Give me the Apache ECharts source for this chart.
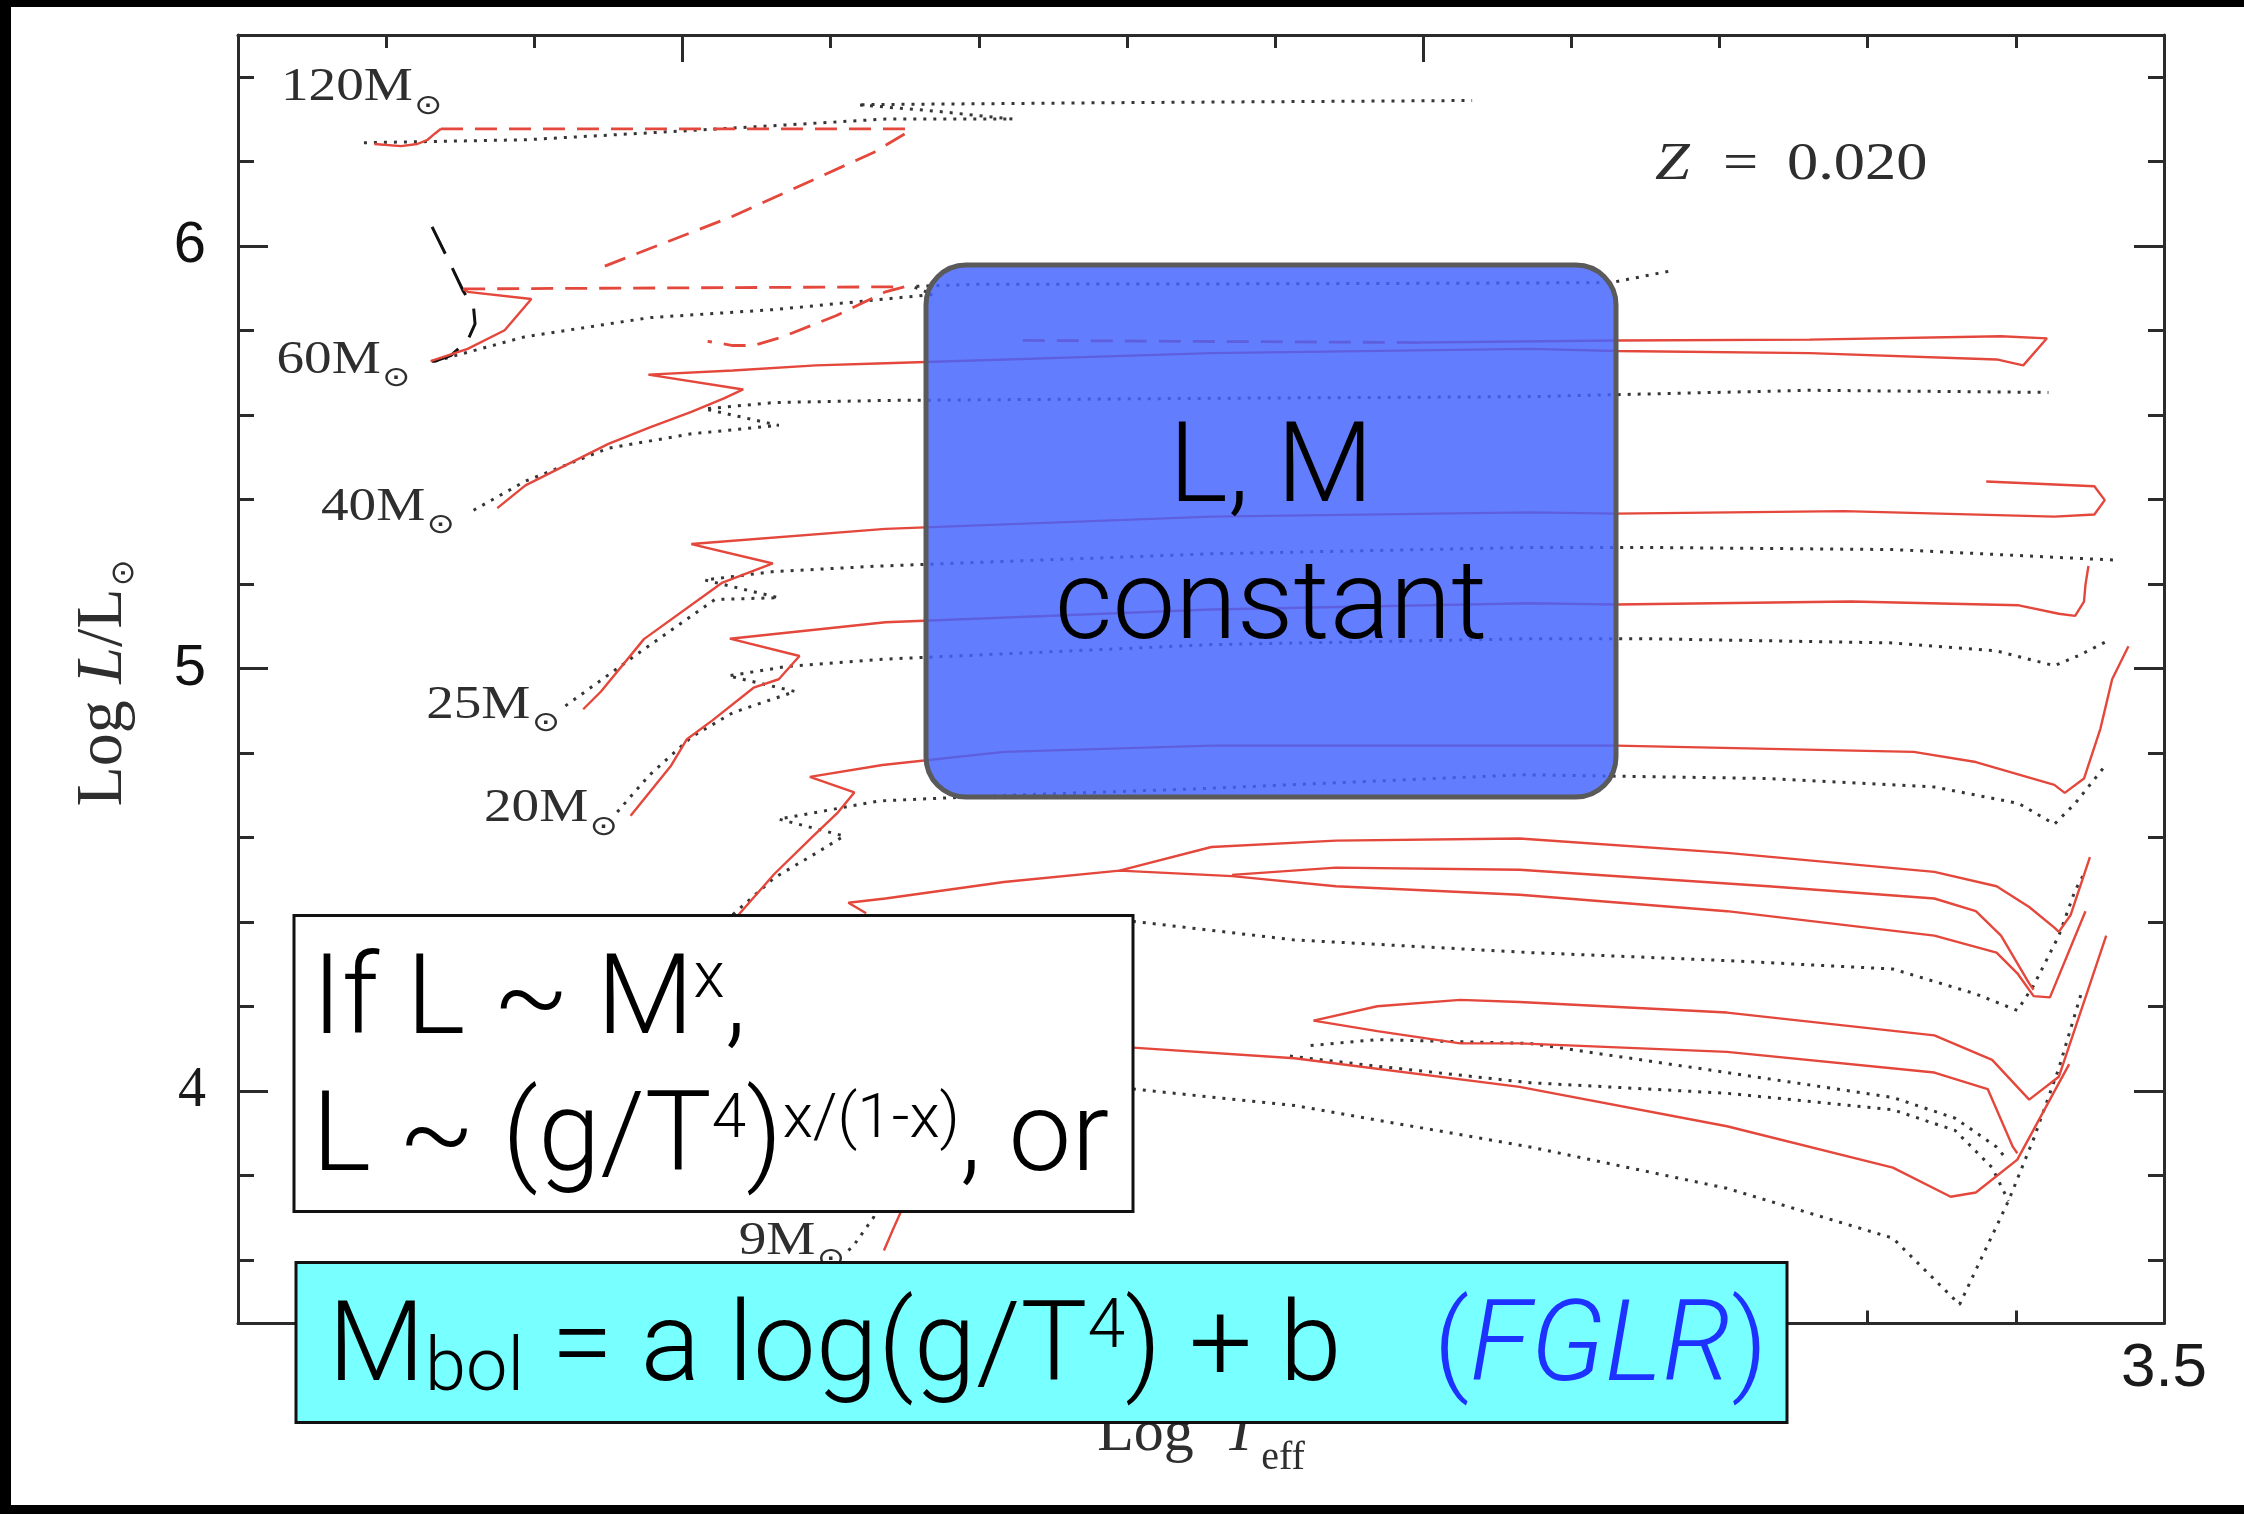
<!DOCTYPE html>
<html>
<head>
<meta charset="utf-8">
<script src="https://cdn.jsdelivr.net/npm/echarts@6/dist/echarts.min.js"></script>
<style>
  html, body { margin: 0; padding: 0; background: #fff; }
  #chart { width: 2244px; height: 1514px; }
</style>
</head>
<body>
<div id="chart"></div>
<script>
// HR diagram, Z = 0.020: rotating tracks (red) and non-rotating tracks (dotted)
// Points are [log Teff, log L/Lsun]

// axis ranges and ticks
const xRange = [3.5, 4.8];
const yRange = [3.45, 6.5];
const xMajor = [3.5, 4.0, 4.5];
const xMinor = [3.6, 3.7, 3.8, 3.9, 4.1, 4.2, 4.3, 4.4, 4.6, 4.7];
const yMajor = [4, 5, 6];
const yMinor = [3.6, 3.8, 4.2, 4.4, 4.6, 4.8, 5.2, 5.4, 5.6, 5.8, 6.2, 6.4];

// 120 Msun
const m120Rot = [[4.708,6.242],[4.690,6.237],[4.679,6.242],[4.672,6.252],[4.667,6.267],[4.663,6.278]];
const m120RotDash = [[4.663,6.278],[4.347,6.278],[4.347,6.272],[4.371,6.222],[4.466,6.071],[4.556,5.948]];
const m120NonRot = [[4.715,6.245],[4.606,6.252],[4.494,6.274],[4.363,6.301],[4.277,6.301],[4.330,6.320],[4.382,6.335],[4.200,6.340],[3.967,6.345]];

// 60 Msun
const m60Early = [[4.669,6.046],[4.656,5.953],[4.648,5.894],[4.641,5.855],[4.640,5.816],[4.645,5.777],[4.656,5.742],[4.667,5.728],[4.674,5.728]];
const m60Rot = [[4.670,5.728],[4.645,5.757],[4.620,5.801],[4.602,5.875],[4.645,5.892],[4.648,5.899]];
const m60RotDash = [[4.648,5.899],[4.350,5.904],[4.363,5.892],[4.396,5.836],[4.432,5.786],[4.452,5.765],[4.466,5.765],[4.483,5.775]];
const m60NonRot = [[4.667,5.728],[4.606,5.786],[4.522,5.831],[4.438,5.850],[4.363,5.875],[4.331,5.886],[4.345,5.905],[4.300,5.910],[4.100,5.911],[3.928,5.913],[3.873,5.914],[3.831,5.943]];

// 40 Msun
const m40Rot = [[4.625,5.380],[4.606,5.434],[4.578,5.483],[4.550,5.532],[4.522,5.571],[4.494,5.608],[4.472,5.640],[4.459,5.661],[4.523,5.696],[4.466,5.706],[4.410,5.718],[4.363,5.723],[4.143,5.747],[3.928,5.757],[3.870,5.752],[3.739,5.747],[3.613,5.732],[3.595,5.718],[3.579,5.782],[3.610,5.787],[3.739,5.779],[3.870,5.777],[4.003,5.772]];
const m40RotDash = [[4.003,5.772],[4.275,5.777]];
const m40NonRot = [[4.641,5.375],[4.606,5.444],[4.550,5.522],[4.494,5.556],[4.435,5.576],[4.485,5.615],[4.438,5.630],[4.363,5.635],[4.143,5.640],[3.928,5.644],[3.739,5.659],[3.578,5.654]];

// 25 Msun
const m25Rot = [[4.567,4.904],[4.555,4.946],[4.526,5.070],[4.473,5.204],[4.439,5.249],[4.494,5.295],[4.363,5.331],[4.143,5.360],[3.928,5.370],[3.870,5.367],[3.716,5.373],[3.574,5.360],[3.547,5.365],[3.540,5.399],[3.547,5.432],[3.620,5.443]];
const m25NonRot = [[4.579,4.912],[4.526,5.046],[4.478,5.164],[4.435,5.168],[4.485,5.210],[4.438,5.230],[4.367,5.243],[4.143,5.272],[3.928,5.287],[3.851,5.287],[3.683,5.282],[3.563,5.262],[3.532,5.257]];

// 20 Msun
const m20Rot = [[4.535,4.652],[4.508,4.769],[4.497,4.833],[4.480,4.877],[4.452,4.955],[4.435,4.975],[4.421,5.030],[4.468,5.071],[4.363,5.110],[4.143,5.140],[3.928,5.155],[3.870,5.152],[3.711,5.159],[3.598,5.150],[3.571,5.130],[3.560,5.125],[3.554,5.159],[3.553,5.199],[3.551,5.243]];
const m20NonRot = [[4.544,4.661],[4.522,4.749],[4.494,4.838],[4.466,4.896],[4.424,4.946],[4.469,4.983],[4.430,5.005],[4.367,5.022],[4.143,5.057],[3.928,5.071],[3.851,5.071],[3.683,5.061],[3.613,5.042],[3.574,5.007],[3.557,5.032],[3.538,5.066]];

// 15 Msun
const m15Rot = [[4.462,4.418],[4.438,4.514],[4.412,4.603],[4.395,4.660],[4.384,4.707],[4.414,4.744],[4.365,4.772],[4.283,4.803],[4.143,4.818],[3.928,4.818],[3.870,4.818],[3.669,4.803],[3.627,4.779],[3.574,4.725],[3.567,4.706],[3.554,4.740],[3.543,4.857],[3.535,4.975],[3.524,5.053]];
const m15NonRot = [[4.466,4.418],[4.438,4.505],[4.410,4.563],[4.391,4.604],[4.435,4.644],[4.367,4.687],[4.283,4.700],[4.157,4.715],[3.933,4.749],[3.767,4.740],[3.655,4.720],[3.598,4.681],[3.574,4.632],[3.560,4.681],[3.540,4.769]];

// 12 Msun
const m12Rot = [[4.376,4.421],[4.388,4.446],[4.363,4.456],[4.283,4.495],[4.205,4.522],[4.129,4.509],[4.059,4.485],[3.935,4.465],[3.795,4.426],[3.655,4.368],[3.613,4.328],[3.599,4.279],[3.588,4.225],[3.577,4.222],[3.553,4.426]];
const m12RotLoopOut = [[4.205,4.522],[4.143,4.578],[4.059,4.593],[3.935,4.598],[3.795,4.564],[3.655,4.519],[3.613,4.485],[3.591,4.436],[3.574,4.387],[3.571,4.377],[3.563,4.417],[3.550,4.554]];
const m12RotLoopBack = [[4.129,4.512],[4.059,4.529],[3.935,4.524],[3.767,4.485],[3.655,4.456],[3.627,4.426],[3.610,4.368],[3.591,4.255],[3.588,4.240]];
const m12NonRot = [[4.196,4.402],[4.087,4.358],[3.928,4.328],[3.795,4.309],[3.683,4.289],[3.627,4.230],[3.599,4.191],[3.588,4.250],[3.571,4.368],[3.560,4.475],[3.554,4.514]];

// 9 Msun
const m9RotMS = [[4.364,3.623],[4.358,3.672],[4.353,3.711],[4.352,3.725]];
const m9Rot = [[4.196,4.103],[4.087,4.078],[3.935,4.010],[3.795,3.917],[3.683,3.819],[3.644,3.750],[3.627,3.760],[3.599,3.838],[3.564,4.064]];
const m9RotLoopOut = [[4.074,4.167],[4.031,4.201],[3.975,4.216],[3.935,4.211],[3.795,4.186],[3.655,4.132],[3.616,4.074],[3.591,3.980],[3.571,4.034],[3.539,4.368]];
const m9RotLoopBack = [[4.074,4.167],[4.031,4.142],[3.975,4.113],[3.935,4.113],[3.795,4.093],[3.655,4.044],[3.619,4.005],[3.602,3.868],[3.599,3.853]];
const m9NonRotMS = [[4.388,3.623],[4.385,3.632],[4.371,3.701],[4.369,3.725]];
const m9NonRot = [[4.196,4.005],[4.087,3.966],[3.928,3.868],[3.795,3.770],[3.683,3.652],[3.638,3.495],[3.605,3.740],[3.588,3.887],[3.571,4.054],[3.556,4.230]];
const m9NonRotLoopOut = [[4.076,4.108],[4.031,4.122],[3.928,4.113],[3.795,4.044],[3.683,3.985],[3.641,3.936],[3.613,3.868],[3.606,3.838]];
const m9NonRotLoopBack = [[4.090,4.083],[4.031,4.059],[3.928,4.020],[3.795,3.995],[3.683,3.956],[3.641,3.907],[3.616,3.819],[3.605,3.740]];

// mass labels (left edge of the text, centre height of the digits)
const massNames = ['120M', '60M', '40M', '25M', '20M', '9M'];
const massPos = [[4.771,6.374],[4.774,5.729],[4.744,5.381],[4.673,4.912],[4.634,4.667],[4.462,3.643]];

const RED = '#e4473b';
const DOT = '#353535';
const FRAME = '#2b2b2b';
const LABEL = '#2e2e2e';
const SANS = 'Roboto, "Liberation Sans", Arial, sans-serif';
const SERIF = '"Liberation Serif", "Times New Roman", serif';
const SUN = '"DejaVu Sans", sans-serif';

function track(data, kind) {
  const styles = {
    solid:   { color: RED, width: 2.4, type: 'solid' },
    dotted:  { color: DOT, width: 3, type: [3, 7] },
    dashRed: { color: RED, width: 2.8, type: [22, 12] },
    dashBlk: { color: '#111', width: 3, type: [30, 16] }
  };
  return {
    type: 'line', data: data, showSymbol: false, symbol: 'none',
    lineStyle: Object.assign({ cap: 'butt' }, styles[kind]),
    z: kind === 'dotted' ? 2 : 3, silent: true, animation: false, clip: true
  };
}

// mass labels drawn through the grid's coordinate system, slightly widened like the figure lettering
const massLabelSeries = {
  type: 'custom', silent: true, animation: false, z: 4,
  data: massPos.map((p, i) => [p[0], p[1], i]),
  renderItem: function (params, api) {
    const pt = api.coord([api.value(0), api.value(1)]);
    return {
      type: 'text', x: pt[0], y: pt[1], scaleX: 1.2, scaleY: 1,
      style: {
        text: '{a|' + massNames[api.value(2)] + '}{s|\u2299}',
        textAlign: 'left', textVerticalAlign: 'middle',
        rich: {
          a: { fontFamily: SERIF, fontSize: 46, fill: LABEL, lineHeight: 46, verticalAlign: 'top' },
          s: { fontFamily: SUN, fontSize: 28, fill: LABEL, lineHeight: 46, verticalAlign: 'top', padding: [27, 0, 0, 1] }
        }
      }
    };
  }
};

const series = [
  track(m120NonRot, 'dotted'), track(m120Rot, 'solid'), track(m120RotDash, 'dashRed'),
  track(m60NonRot, 'dotted'), track(m60Early, 'dashBlk'), track(m60Rot, 'solid'), track(m60RotDash, 'dashRed'),
  track(m40NonRot, 'dotted'), track(m40Rot, 'solid'), track(m40RotDash, 'dashRed'),
  track(m25NonRot, 'dotted'), track(m25Rot, 'solid'),
  track(m20NonRot, 'dotted'), track(m20Rot, 'solid'),
  track(m15NonRot, 'dotted'), track(m15Rot, 'solid'),
  track(m12NonRot, 'dotted'), track(m12Rot, 'solid'), track(m12RotLoopOut, 'solid'), track(m12RotLoopBack, 'solid'),
  track(m9NonRotMS, 'dotted'), track(m9NonRot, 'dotted'), track(m9NonRotLoopOut, 'dotted'), track(m9NonRotLoopBack, 'dotted'),
  track(m9RotMS, 'solid'), track(m9Rot, 'solid'), track(m9RotLoopOut, 'solid'), track(m9RotLoopBack, 'solid'),
  massLabelSeries
];

function tickAxis(pos, values, len, extra) {
  return Object.assign({
    type: 'value', position: pos,
    splitLine: { show: false },
    axisLine: { show: false, onZero: false },
    axisTick: { show: true, inside: true, length: len, customValues: values, lineStyle: { color: FRAME, width: 3 } },
    axisLabel: { show: false }
  }, extra);
}

const xCommon = { min: xRange[0], max: xRange[1], inverse: true };
const yCommon = { min: yRange[0], max: yRange[1] };

const option = {
  backgroundColor: '#fff',
  animation: false,
  grid: { left: 238, right: 80, top: 35, bottom: 190.5, containLabel: false },
  xAxis: [
    tickAxis('bottom', xMajor, 27, Object.assign({}, xCommon, {
      axisLine: { show: true, onZero: false, lineStyle: { color: FRAME, width: 3 } },
      axisLabel: { show: true, customValues: xMajor, formatter: v => v.toFixed(1), margin: 14,
                   fontFamily: '"Liberation Sans", Arial, sans-serif', fontSize: 62, color: '#1a1a1a' },
      name: '{a|Log  }{i|T}{s|eff}', nameLocation: 'middle', nameGap: 74,
      nameTextStyle: { rich: {
        a: { fontFamily: SERIF, fontSize: 60, color: LABEL, lineHeight: 60, verticalAlign: 'top' },
        i: { fontFamily: SERIF, fontSize: 60, fontStyle: 'italic', color: LABEL, lineHeight: 60, verticalAlign: 'top' },
        s: { fontFamily: SERIF, fontSize: 40, color: LABEL, lineHeight: 60, verticalAlign: 'top', padding: [34, 0, 0, 4] }
      } }
    })),
    tickAxis('bottom', xMinor, 13, xCommon),
    tickAxis('top', xMajor, 27, Object.assign({}, xCommon, {
      axisLine: { show: true, onZero: false, lineStyle: { color: FRAME, width: 3 } }
    })),
    tickAxis('top', xMinor, 13, xCommon)
  ],
  yAxis: [
    tickAxis('left', yMajor, 30, Object.assign({}, yCommon, {
      axisLine: { show: true, onZero: false, lineStyle: { color: FRAME, width: 3 } },
      axisLabel: { show: true, customValues: yMajor, margin: 32,
        formatter: v => v === 4 ? '{s|4}' : '{n|' + v + '}',
        rich: {
          n: { fontFamily: '"Liberation Sans", Arial, sans-serif', fontSize: 58, color: '#111' },
          s: { fontFamily: SERIF, fontSize: 56, color: '#1a1a1a' }
        } }
    })),
    tickAxis('left', yMinor, 16, yCommon),
    tickAxis('right', yMajor, 30, Object.assign({}, yCommon, {
      axisLine: { show: true, onZero: false, lineStyle: { color: FRAME, width: 3 } }
    })),
    tickAxis('right', yMinor, 16, yCommon)
  ],
  series: series,
  graphic: [
    // dark border strips of the slide
    { type: 'rect', shape: { x: 0, y: 0, width: 2244, height: 7 }, style: { fill: '#000' }, z: 200, silent: true },
    { type: 'rect', shape: { x: 0, y: 0, width: 11, height: 1514 }, style: { fill: '#000' }, z: 200, silent: true },
    { type: 'rect', shape: { x: 0, y: 1505, width: 2244, height: 9 }, style: { fill: '#000' }, z: 200, silent: true },
    // vertical axis title
    { type: 'text', x: 104, y: 683, rotation: Math.PI / 2, z: 50, silent: true,
      style: { text: '{a|Log }{i|L}{a|/L}{s|\u2299}', textAlign: 'center', textVerticalAlign: 'middle',
        rich: {
          a: { fontFamily: SERIF, fontSize: 66, fill: LABEL, lineHeight: 66, verticalAlign: 'top' },
          i: { fontFamily: SERIF, fontSize: 66, fontStyle: 'italic', fill: LABEL, lineHeight: 66, verticalAlign: 'top' },
          s: { fontFamily: SUN, fontSize: 32, fill: LABEL, lineHeight: 66, verticalAlign: 'top', padding: [38, 0, 0, 2] }
        } } },
    // metallicity label
    { type: 'text', x: 1655, y: 165, scaleX: 1.2, z: 50, silent: true,
      style: { text: '{z|Z}{e|=}{n|0.020}', textAlign: 'left', textVerticalAlign: 'middle',
        rich: {
          z: { fontFamily: SERIF, fontStyle: 'italic', fontSize: 52, fill: LABEL, width: 56.7 },
          e: { fontFamily: SERIF, fontSize: 52, fill: LABEL, width: 53.3 },
          n: { fontFamily: SERIF, fontSize: 52, fill: LABEL }
        } } },
    // blue annotation box
    { type: 'rect', z: 100, silent: true,
      shape: { x: 926, y: 265, width: 690, height: 532, r: 40 },
      style: { fill: 'rgba(66,100,255,0.83)', stroke: '#5a5a5a', lineWidth: 5 } },
    { type: 'text', x: 1271, y: 473, z: 101, silent: true,
      style: { text: 'L, M', textAlign: 'center', textVerticalAlign: 'middle',
        fontFamily: SANS, fontWeight: 300, fontSize: 112, fill: '#000' } },
    { type: 'text', x: 1271, y: 610, z: 101, silent: true,
      style: { text: 'constant', textAlign: 'center', textVerticalAlign: 'middle',
        fontFamily: SANS, fontWeight: 300, fontSize: 112, fill: '#000' } },
    // white annotation box
    { type: 'rect', z: 100, silent: true,
      shape: { x: 294, y: 915.5, width: 839, height: 296 },
      style: { fill: '#fff', stroke: '#111', lineWidth: 3 } },
    { type: 'text', x: 312, y: 1005, z: 101, silent: true,
      style: { text: '{m|If L ~ M}{p|x}{m|,}', textAlign: 'left', textVerticalAlign: 'middle',
        rich: {
          m: { fontFamily: SANS, fontWeight: 300, fontSize: 112, fill: '#000', lineHeight: 112, verticalAlign: 'top' },
          p: { fontFamily: SANS, fontWeight: 300, fontSize: 64, fill: '#000', lineHeight: 112, verticalAlign: 'top' }
        } } },
    { type: 'text', x: 312, y: 1142, z: 101, silent: true,
      style: { text: '{m|L ~ (g/T}{q|4}{m|)}{q|x/(1-x)}{m|, or}', textAlign: 'left', textVerticalAlign: 'middle',
        rich: {
          m: { fontFamily: SANS, fontWeight: 300, fontSize: 112, fill: '#000', lineHeight: 112, verticalAlign: 'top' },
          q: { fontFamily: SANS, fontWeight: 300, fontSize: 62, fill: '#000', lineHeight: 112, verticalAlign: 'top', padding: [4, 0, 0, 0] }
        } } },
    // cyan annotation box
    { type: 'rect', z: 100, silent: true,
      shape: { x: 296, y: 1262.5, width: 1491, height: 160 },
      style: { fill: '#78ffff', stroke: '#111', lineWidth: 3 } },
    { type: 'text', x: 328, y: 1352, z: 101, silent: true,
      style: { text: '{m|M}{b|bol}{m| = a log(g/T}{p|4}{m|) + b}{g| }{f|(}{fi|FGLR}{f|)}', textAlign: 'left', textVerticalAlign: 'middle',
        rich: {
          m: { fontFamily: SANS, fontWeight: 300, fontSize: 112, fill: '#000', lineHeight: 112, verticalAlign: 'top' },
          b: { fontFamily: SANS, fontWeight: 300, fontSize: 74, fill: '#000', lineHeight: 112, verticalAlign: 'top', padding: [38, 0, 0, 0] },
          p: { fontFamily: SANS, fontWeight: 300, fontSize: 68, fill: '#000', lineHeight: 112, verticalAlign: 'top' },
          g: { fontFamily: SANS, fontSize: 112, lineHeight: 112, width: 92, verticalAlign: 'top' },
          f: { fontFamily: SANS, fontWeight: 300, fontSize: 112, fill: '#1e32ff', lineHeight: 112, verticalAlign: 'top' },
          fi: { fontFamily: SANS, fontWeight: 300, fontStyle: 'italic', fontSize: 112, fill: '#1e32ff', lineHeight: 112, verticalAlign: 'top' }
        } } }
  ]
};

const chart = echarts.init(document.getElementById('chart'), null, { renderer: 'canvas', width: 2244, height: 1514 });
chart.setOption(option);
</script>
</body>
</html>
